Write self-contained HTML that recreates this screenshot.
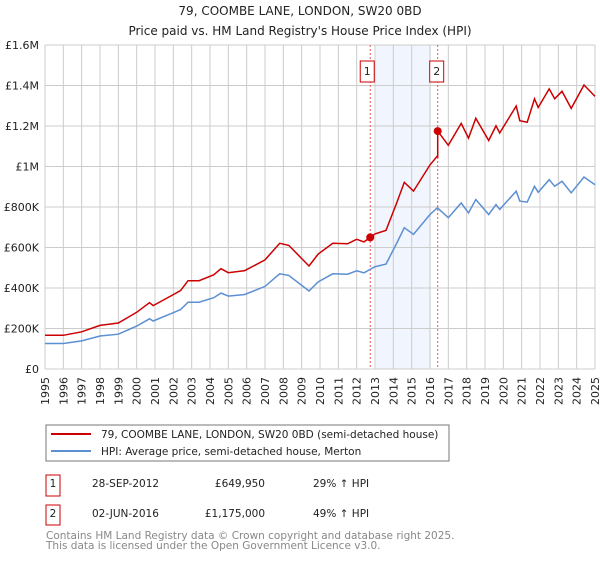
<!DOCTYPE html>
<html><head><meta charset="utf-8"><style>
body{margin:0;background:#fff;width:600px;height:560px;overflow:hidden;font-family:"DejaVu Sans","Liberation Sans",sans-serif;}
svg text{font-family:"DejaVu Sans","Liberation Sans",sans-serif;}
</style></head><body>
<svg id="chart" width="600" height="560" xmlns="http://www.w3.org/2000/svg">
<text x="300" y="15" text-anchor="middle" font-size="12" fill="#222">79, COOMBE LANE, LONDON, SW20 0BD</text>
<text x="300" y="35" text-anchor="middle" font-size="12" fill="#222">Price paid vs. HM Land Registry's House Price Index (HPI)</text>
<g id="grid"></g>
<g id="series"></g>
<g id="legend">
<rect x="46" y="425" width="403" height="36" fill="#fff" stroke="#777"/>
<line x1="51" y1="434" x2="91" y2="434" stroke="#cc0000" stroke-width="2"/>
<text x="101" y="438" font-size="10.5" fill="#222">79, COOMBE LANE, LONDON, SW20 0BD (semi-detached house)</text>
<line x1="51" y1="451" x2="91" y2="451" stroke="#5b8fd4" stroke-width="2"/>
<text x="101" y="455" font-size="10.5" fill="#222">HPI: Average price, semi-detached house, Merton</text>
</g>
<g>
<rect x="46" y="475" width="14" height="21" fill="#fff" stroke="#cc0000"/>
<text x="53" y="487" text-anchor="middle" font-size="10.5" fill="#222">1</text>
<text x="92" y="487" font-size="10.5" fill="#222">28-SEP-2012</text>
<text x="265" y="487" text-anchor="end" font-size="10.5" fill="#222">£649,950</text>
<text x="313" y="487" font-size="10.5" fill="#222">29% ↑ HPI</text>
</g>
<g>
<rect x="46" y="505" width="14" height="20" fill="#fff" stroke="#cc0000"/>
<text x="53" y="517" text-anchor="middle" font-size="10.5" fill="#222">2</text>
<text x="92" y="517" font-size="10.5" fill="#222">02-JUN-2016</text>
<text x="265" y="517" text-anchor="end" font-size="10.5" fill="#222">£1,175,000</text>
<text x="313" y="517" font-size="10.5" fill="#222">49% ↑ HPI</text>
</g>
<text x="46" y="539" font-size="10.5" fill="#888">Contains HM Land Registry data © Crown copyright and database right 2025.</text>
<text x="46" y="549" font-size="10.5" fill="#888">This data is licensed under the Open Government Licence v3.0.</text>
</svg>
<script>
const yTicks=[0,200000,400000,600000,800000,1000000,1200000,1400000,1600000];
const yTickLabels=["£0","£200K","£400K","£600K","£800K","£1M","£1.2M","£1.4M","£1.6M"];
const xYears=[1995,1996,1997,1998,1999,2000,2001,2002,2003,2004,2005,2006,2007,2008,2009,2010,2011,2012,2013,2014,2015,2016,2017,2018,2019,2020,2021,2022,2023,2024,2025];
const hpiDates=[1995,1996,1997,1998,1999,2000,2000.7,2000.9,2002,2002.4,2002.8,2003.4,2004.2,2004.6,2005,2005.9,2007,2007.8,2008.3,2009.4,2009.9,2010.7,2011.5,2012,2012.4,2013,2013.6,2014.2,2014.6,2015.1,2016,2016.4,2017,2017.7,2018.1,2018.5,2019.2,2019.6,2019.8,2020.7,2020.9,2021.3,2021.7,2021.9,2022.5,2022.8,2023.2,2023.7,2024.4,2025];
const hpiValues=[126000,126000,139000,163000,172000,212000,248000,237000,278000,294000,330000,330000,352000,375000,360000,368000,408000,470000,462000,385000,430000,470000,468000,485000,475000,505000,518000,624000,698000,665000,763000,796000,747000,820000,771000,837000,763000,812000,788000,878000,829000,824000,902000,873000,935000,902000,927000,870000,948000,910000];
const saleDates=[2012.74,2016.42];
const salePrices=[649950,1175000];
const saleLabels=["1","2"];

const X0=45,X1=595,Y0=369,Y1=45;
const xs=y=>X0+(y-1995)/(2025-1995)*(X1-X0);
const ys=v=>Y0-v/1600000*(Y0-Y1);
const NS="http://www.w3.org/2000/svg";
function mk(tag,attrs,parent){const e=document.createElementNS(NS,tag);for(const k in attrs)e.setAttribute(k,attrs[k]);parent.appendChild(e);return e;}
const grid=document.getElementById('grid'),ser=document.getElementById('series');
const sh=mk('rect',{x:xs(2013.05),y:Y1,width:xs(2016.05)-xs(2013.05),height:Y0-Y1,fill:'#eef3fc',opacity:0.8},grid);


xYears.forEach(yr=>{
 const l=mk('line',{x1:xs(yr),x2:xs(yr),y1:Y1,y2:Y0,stroke:'#ccc'},grid);
 
 
 const t=mk('text',{transform:`translate(${xs(yr)+4},${Y0+8}) rotate(-90)`,'text-anchor':'end','font-size':11,fill:'#222'},grid);
 t.textContent=yr;
 
 
});
yTicks.forEach((v,i)=>{
 const l=mk('line',{x1:X0,x2:X1,y1:ys(v),y2:ys(v),stroke:'#ccc'},grid);
 
 
 const t=mk('text',{x:X0-6,y:ys(v)+4,'text-anchor':'end','font-size':11,fill:'#222'},grid);
 t.textContent=yTickLabels[i];
 
 
});
function hpiAt(d){for(let i=1;i<hpiDates.length;i++){if(d<=hpiDates[i]){const f=(d-hpiDates[i-1])/(hpiDates[i]-hpiDates[i-1]);return hpiValues[i-1]+f*(hpiValues[i]-hpiValues[i-1]);}}return hpiValues[hpiValues.length-1];}
const r1=salePrices[0]/hpiAt(saleDates[0]),r2=salePrices[1]/hpiAt(saleDates[1]);
function redAt(d){return hpiAt(d)*(d<saleDates[1]?r1:r2);}
let hp='',rp='';
const dates=hpiDates.slice();saleDates.forEach(d=>{dates.push(d);});dates.push(saleDates[1]-0.001);
dates.sort((a,b)=>a-b);
dates.forEach((d,i)=>{hp+=(i?'L':'M')+xs(d).toFixed(1)+','+ys(hpiAt(d)).toFixed(1);rp+=(i?'L':'M')+xs(d).toFixed(1)+','+ys(redAt(d)).toFixed(1);});
saleDates.forEach((d,i)=>{
 const v=mk('line',{x1:xs(d),x2:xs(d),y1:Y1,y2:Y0,stroke:'#e55','stroke-dasharray':'2,2','stroke-width':1},ser);
 
 
});
const hl=mk('path',{d:hp,fill:'none',stroke:'#5b8fd4','stroke-width':1.5},ser);


const rl=mk('path',{d:rp,fill:'none',stroke:'#cc0000','stroke-width':1.5},ser);


saleDates.forEach((d,i)=>{
 const c=mk('circle',{cx:xs(d),cy:ys(salePrices[i]),r:4,fill:'#cc0000'},ser);
 
 
 const bx=xs(d)-(i===0?10:8);
 const b=mk('rect',{x:bx,y:61,width:14,height:21,fill:'#fff',stroke:'#cc0000'},ser);
 
 
 const t=mk('text',{x:bx+7,y:75,'text-anchor':'middle','font-size':11,fill:'#222'},ser);
 t.textContent=saleLabels[i];
 
 
});
</script>
</body></html>
